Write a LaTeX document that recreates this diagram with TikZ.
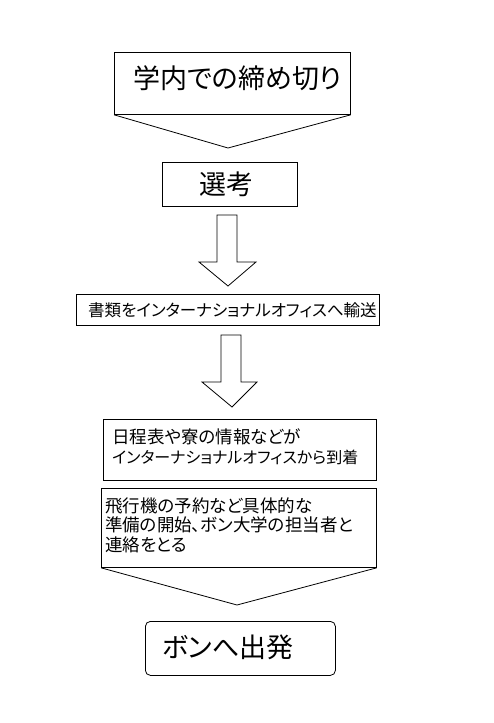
\documentclass[tikz,border=0pt]{standalone}
\usepackage{fontspec}
\setmainfont{Noto Sans CJK JP}[RawFeature={+palt}]
\begin{document}
\begin{tikzpicture}[x=1pt,y=-1pt,
  box/.style={draw, line width=0.8pt, inner sep=0pt, anchor=north west},
  shape line/.style={draw, line width=0.8pt, line join=miter},
  txt/.style={inner sep=0pt, align=left, anchor=west}]
\useasboundingbox (0,0) rectangle (493,723);
% top pentagon
\node[box, minimum width=236pt, minimum height=62pt] (t1) at (114,52) {};
\coordinate (t1tip) at (228,148);
\draw[shape line] (t1.south west) -- (t1tip) -- (t1.south east);
\node[txt, font=\fontsize{27}{30}\selectfont] (t1t) at (133,78) {学内での締め切り};
% selection
\node[box, minimum width=135pt, minimum height=44pt] (sel) at (162,162) {};
\node[txt, font=\fontsize{27}{30}\selectfont] (selt) at (199,184) {選考};
% block arrow 1
\draw[shape line] (217,215) -- (237,215) -- (237,262) -- (256,262) -- (228,286) -- (199,262) -- (217,262) -- cycle;
% documents
\node[box, minimum width=303pt, minimum height=31pt] (doc) at (76,294) {};
\node[txt, font=\fontsize{16.5}{20}\selectfont] (doct) at (88,310) {書類をインターナショナルオフィスへ輸送};
% block arrow 2
\draw[shape line] (221,335) -- (241,335) -- (241,382) -- (257,382) -- (232,407) -- (202,382) -- (221,382) -- cycle;
% schedule
\node[box, minimum width=273pt, minimum height=61pt] (sch) at (103,419) {};
\node[txt, font=\fontsize{17.5}{20}\selectfont] (scht) at (112,447) {日程表や寮の情報などが\\{\fontsize{16}{20}\selectfont インターナショナルオフィスから到着}};
% preparation pentagon
\node[box, minimum width=275pt, minimum height=79pt] (prep) at (101,488) {};
\coordinate (preptip) at (237,605);
\draw[shape line] (prep.south west) -- (preptip) -- (prep.south east);
\node[txt, font=\fontsize{17.5}{19.5}\selectfont] (prept) at (105,525) {飛行機の予約など具体的な\\準備の開始、ボン大学の担当者と\\連絡をとる};
% departure
\node[box, rounded corners=5pt, minimum width=190pt, minimum height=54pt] (dep) at (145,621) {};
\node[txt, font=\fontsize{27}{30}\selectfont] (dept) at (162,647) {ボンへ出発};
\end{tikzpicture}
\end{document}
